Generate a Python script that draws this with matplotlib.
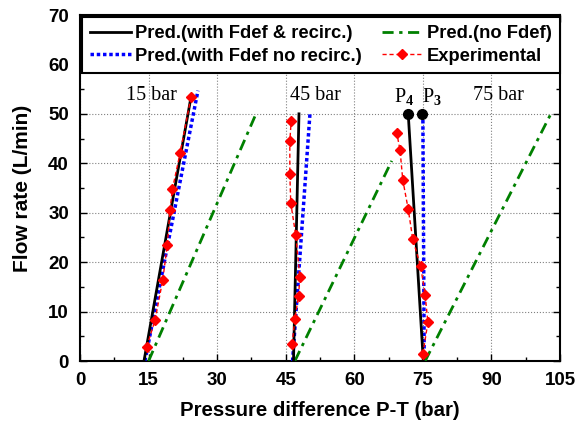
import matplotlib
matplotlib.use('Agg')
import matplotlib.pyplot as plt
from matplotlib.ticker import MultipleLocator

# 15 bar
pred_15_x = [14.0, 24.3]
pred_15_y = [0, 53.5]
norecirc_15_x = [14.2, 25.8]
norecirc_15_y = [0, 54.7]
nofdef_15_x = [15.0, 38.5]
nofdef_15_y = [0, 50]
exp_15_x = [14.6, 16.4, 18.1, 19.1, 19.7, 20.2, 21.9, 24.3]
exp_15_y = [2.9, 8.2, 16.4, 23.5, 30.6, 34.7, 42.1, 53.5]

# 45 bar
pred_45_x = [46.7, 47.9]
pred_45_y = [0, 50]
norecirc_45_x = [46.5, 50.3]
norecirc_45_y = [0, 50]
nofdef_45_x = [47.0, 68.2]
nofdef_45_y = [0, 40.5]
exp_45_x = [46.4, 47.0, 47.8, 48.1, 47.2, 46.1, 45.9, 45.9, 46.2]
exp_45_y = [3.4, 8.5, 13.1, 16.9, 25.4, 32.0, 37.8, 44.5, 48.6]

# 75 bar
pred_75_x = [75.1, 71.8]
pred_75_y = [0, 50]
norecirc_75_x = [75.3, 75.0]
norecirc_75_y = [0, 50]
nofdef_75_x = [75.5, 103.0]
nofdef_75_y = [0, 50]
exp_75_x = [75.0, 76.1, 75.5, 74.5, 72.8, 71.8, 70.6, 70.0, 69.3]
exp_75_y = [1.4, 7.8, 13.4, 19.2, 24.6, 30.7, 36.7, 42.7, 46.1]

# P3 / P4 points
p_x = [71.8, 74.8]
p_y = [50, 50]

x_ticks = [0, 15, 30, 45, 60, 75, 90, 105]
y_ticks = [0, 10, 20, 30, 40, 50, 60, 70]

plt.rcParams['font.family'] = ['Liberation Sans', 'DejaVu Sans']
plt.rcParams['font.weight'] = 'bold'
plt.rcParams['mathtext.fontset'] = 'custom'
plt.rcParams['mathtext.rm'] = 'Liberation Serif'
plt.rcParams['mathtext.it'] = 'Liberation Serif'

fig = plt.figure(figsize=(5.83, 4.28), dpi=100)
ax = fig.add_axes([80 / 583, 1 - 361 / 428, 480 / 583, 346 / 428])

groups = [
    (pred_15_x, pred_15_y, norecirc_15_x, norecirc_15_y, nofdef_15_x, nofdef_15_y, exp_15_x, exp_15_y),
    (pred_45_x, pred_45_y, norecirc_45_x, norecirc_45_y, nofdef_45_x, nofdef_45_y, exp_45_x, exp_45_y),
    (pred_75_x, pred_75_y, norecirc_75_x, norecirc_75_y, nofdef_75_x, nofdef_75_y, exp_75_x, exp_75_y),
]
for i, (px, py, bx, by, gx, gy, ex, ey) in enumerate(groups):
    ax.plot(px, py, color='black', lw=2, label='Pred.(with Fdef & recirc.)' if i == 0 else None, zorder=4)
    ax.plot(bx, by, color='blue', lw=2.5, ls=(0, (1, 0.8)),
            label='Pred.(with Fdef no recirc.)' if i == 0 else None, zorder=3)
    ax.plot(gx, gy, color='green', lw=2, ls=(0, (4, 2, 1.2, 2)),
            label='Pred.(no Fdef)' if i == 0 else None, zorder=3)
    ax.plot(ex, ey, color='red', lw=1, ls=(0, (3, 2)), marker='D', ms=5,
            mec='red', mfc='red', label='Experimental' if i == 0 else None, zorder=5)

ax.plot(p_x, p_y, 'o', color='black', ms=7, zorder=6)

serif = ['Liberation Serif', 'DejaVu Serif']
ax.text(10, 53.7, '15 bar', family=serif, weight='normal', fontsize=14.5, va='center')
ax.text(46.0, 53.7, '45 bar', family=serif, weight='normal', fontsize=14.5, va='center')
ax.text(86, 53.7, '75 bar', family=serif, weight='normal', fontsize=14.5, va='center')
ax.text(68.7, 53.6, r'P$_{\mathrm{4}}$', family=serif, weight='normal', fontsize=14.5, va='center')
ax.text(74.8, 53.6, r'P$_{\mathrm{3}}$', family=serif, weight='normal', fontsize=14.5, va='center')

ax.set_xlim(0, 105)
ax.set_ylim(0, 70)
ax.set_xticks(x_ticks, labels=[str(t) for t in x_ticks], fontweight='bold', fontsize=13.5)
ax.set_yticks(y_ticks, labels=[str(t) for t in y_ticks], fontweight='bold', fontsize=13.5)
ax.xaxis.set_minor_locator(MultipleLocator(7.5))
ax.yaxis.set_minor_locator(MultipleLocator(5))
ax.tick_params(which='both', direction='in', top=True, right=True, pad=8)
ax.tick_params(which='major', length=5, width=1)
ax.tick_params(which='minor', length=3, width=1)
ax.grid(True, which='major', color='gray', ls=':', lw=0.8)
for s in ax.spines.values():
    s.set_linewidth(1.5)

ax.set_xlabel('Pressure difference P-T (bar)', fontsize=14.7, fontweight='bold')
ax.set_ylabel('Flow rate (L/min)', fontsize=15, fontweight='bold')
ax.xaxis.set_label_coords(0.5, -0.115)
ax.yaxis.set_label_coords(-0.1, 0.5)

leg = ax.legend(ncol=2, loc='upper left', bbox_to_anchor=(0.004, 0.994),
                prop={'size': 13.2, 'weight': 'bold'},
                frameon=True, fancybox=False, edgecolor='black', framealpha=1,
                borderpad=0.45, handlelength=2.2, handletextpad=0.25, columnspacing=1.1,
                labelspacing=0.3, borderaxespad=0)
leg.get_frame().set_linewidth(1.5)

fig.savefig('out.png', dpi=100)
